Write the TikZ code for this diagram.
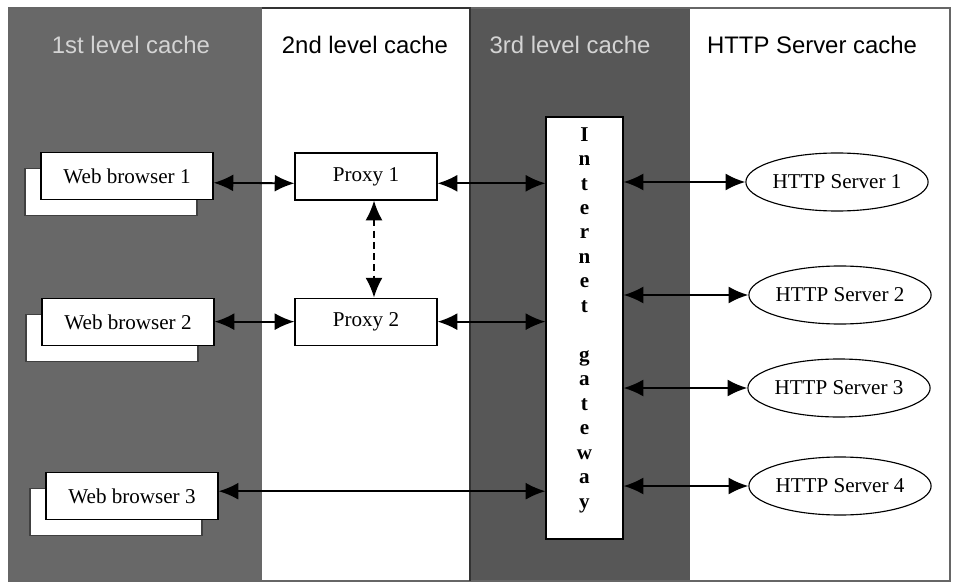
\documentclass[tikz,border=0pt]{standalone}
\usepackage{fontspec}
\setmainfont{Liberation Serif}
\setsansfont{Liberation Sans}
\usepackage{tikz}
\usetikzlibrary{arrows.meta, positioning, shapes.geometric, shadows}
\definecolor{cachedark}{HTML}{686868}
\definecolor{cachedeep}{HTML}{575757}
\definecolor{headlight}{HTML}{D4D4D4}

\begin{document}
\begin{tikzpicture}[
    x=0.025cm, y=-0.025cm,
    head/.style={font=\fontsize{17}{20}\selectfont\sffamily},
    box/.style={draw, line width=0.8pt, fill=white, text centered,
                font=\fontsize{15}{18}\selectfont, inner sep=2pt},
    browser/.style={box, minimum width=4.3cm, minimum height=1.175cm,
                    copy shadow={shadow xshift=-0.4cm, shadow yshift=-0.4cm,
                                 draw=black!75, fill=white, line width=0.8pt}},
    proxy/.style={box, minimum width=3.55cm, minimum height=1.175cm},
    server/.style={ellipse, draw, line width=0.8pt, fill=white, inner sep=0pt,
                   minimum width=3.85cm, minimum height=1.45cm,
                   font=\fontsize{15}{18}\selectfont},
    arr/.style={{Latex[length=14pt,width=12pt]}-{Latex[length=14pt,width=12pt]},
                line width=1.3pt},
  ]
  \useasboundingbox (0,0) rectangle (954,584);

  % Cache columns
  \fill[white] (0,0) rectangle (954,584);
  \fill[cachedark] (9,8) rectangle (262,581);
  \fill[cachedeep] (470,8) rectangle (690,581);
  \draw[black!60, line width=0.8pt] (9,8) rectangle (950,581);
  \draw[black!80, line width=0.8pt] (262,8) -- (470,8) -- (470,581);

  % Column headings
  \node[head, text=headlight] (h1) at (131,45) {1st level cache};
  \node[head] (h2) at (365,45) {2nd level cache};
  \node[head, text=headlight] (h3) at (570,45) {3rd level cache};
  \node[head] (h4) at (812,45) {HTTP Server cache};

  % Web browsers
  \node[browser] (wb1) at (127,176) {Web browser 1};
  \node[browser] (wb2) at (128,322) {Web browser 2};
  \node[browser] (wb3) at (132,496) {Web browser 3};

  % Proxies
  \node[proxy] (px1) at (366,176.5) {Proxy 1};
  \node[proxy, below=2.425cm of px1] (px2) {Proxy 2};

  % Internet gateway
  \node[box, minimum width=1.925cm, minimum height=10.55cm] (gw) at (584.5,328) {};
  \node[align=center, font=\fontsize{15}{17.4}\selectfont\bfseries] (gwtext) at (584.5,320)
    {I\\n\\t\\e\\r\\n\\e\\t\\\mbox{}\\g\\a\\t\\e\\w\\a\\y};

  % HTTP servers
  \node[server] (s1) at (837,182) {HTTP Server 1};
  \node[server] (s2) at (840,295) {HTTP Server 2};
  \node[server] (s3) at (839,388) {HTTP Server 3};
  \node[server] (s4) at (840,486) {HTTP Server 4};

  % Arrows
  \draw[arr] ([yshift=-0.17cm]wb1.east) -- ([yshift=-0.17cm]px1.west);
  \draw[arr] ([yshift=-0.17cm]px1.east) -- ([yshift=-0.17cm]px1.east -| gw.west);
  \draw[arr, dash pattern=on 5pt off 3pt] ([xshift=0.2cm]px1.south) -- ([xshift=0.2cm]px2.north);
  \draw[arr] (wb2.east |- px2.west) -- (px2.west);
  \draw[arr] (px2.east) -- (px2.east -| gw.west);
  \draw[arr] ([yshift=0.12cm]wb3.east) -- ([yshift=0.12cm]wb3.east -| gw.west);
  \draw[arr] (gw.east |- s1.west) -- (s1.west);
  \draw[arr] (gw.east |- s2.west) -- (s2.west);
  \draw[arr] (gw.east |- s3.west) -- (s3.west);
  \draw[arr] (gw.east |- s4.west) -- (s4.west);

\end{tikzpicture}
\end{document}
